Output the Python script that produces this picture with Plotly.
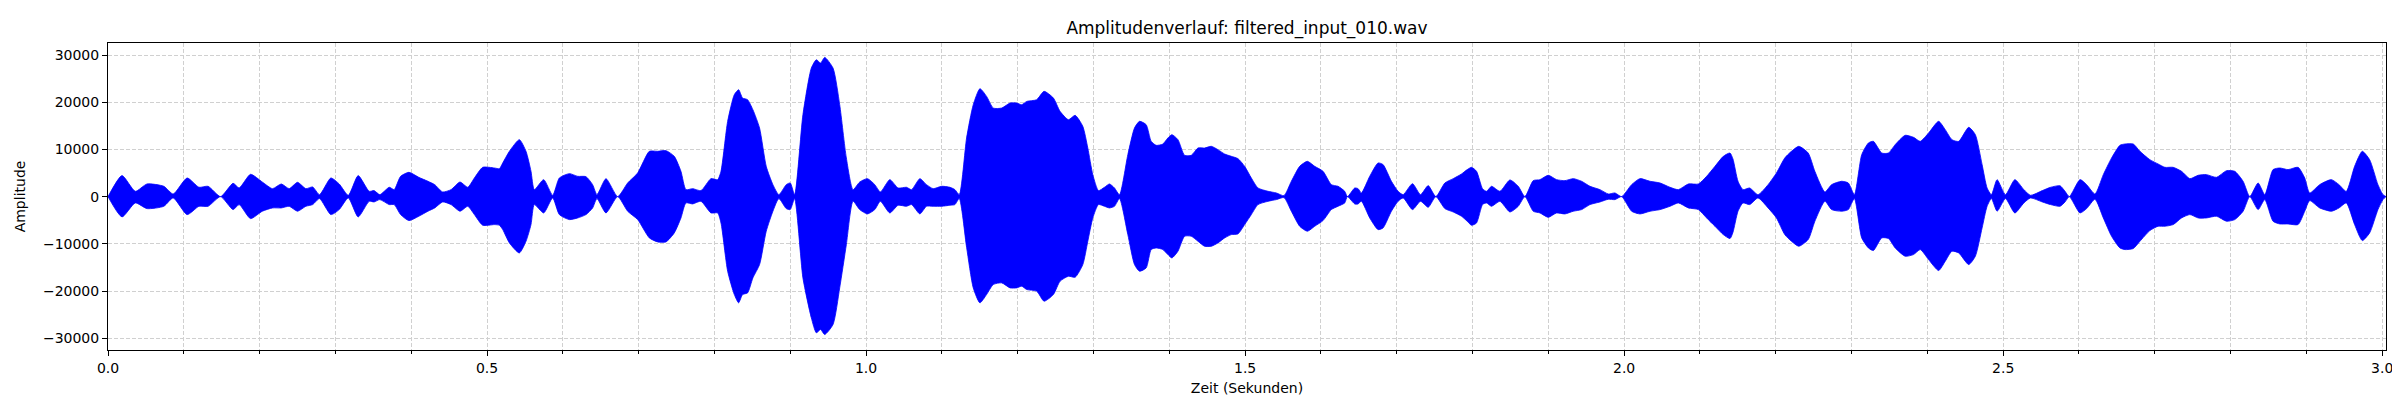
import plotly.graph_objects as go

# envelope of the waveform
# time (s), upper envelope, lower envelope (magnitude, drawn negative)
zeit = [
    0.000, 0.0185, 0.036, 0.0515, 0.0736, 0.086, 0.1044, 0.120, 0.132, 0.1485,
    0.165, 0.173, 0.188, 0.2035, 0.217, 0.2286, 0.239, 0.250, 0.261, 0.270,
    0.279, 0.294, 0.305, 0.317, 0.330, 0.3445, 0.351, 0.3586, 0.371, 0.3775,
    0.386, 0.397, 0.410, 0.422, 0.431, 0.4415, 0.4525, 0.4644, 0.4745, 0.4833,
    0.4943, 0.5097, 0.5163, 0.5207, 0.5295, 0.5426, 0.5514, 0.558, 0.5624, 0.5747,
    0.5866, 0.5954, 0.6086, 0.6196, 0.6305, 0.6393, 0.645, 0.6569, 0.6723, 0.6855,
    0.6987, 0.7141, 0.7251, 0.736, 0.747, 0.7558, 0.7624, 0.7712, 0.7822, 0.7954,
    0.8042, 0.8086, 0.8174, 0.8262, 0.8319, 0.8371, 0.8437, 0.8507, 0.8595, 0.8683,
    0.8771, 0.885, 0.8947, 0.900, 0.9057, 0.9167, 0.9278, 0.9344, 0.940, 0.9454,
    0.9564, 0.9652, 0.974, 0.9828, 0.9916, 1.0018, 1.0115, 1.0189, 1.0313, 1.0423,
    1.0533, 1.060, 1.071, 1.0797, 1.0885, 1.0996, 1.1106, 1.1172, 1.1229, 1.1326,
    1.1414, 1.1502, 1.159, 1.1678, 1.1789, 1.1899, 1.1987, 1.2053, 1.212, 1.2251,
    1.2348, 1.2471, 1.2559, 1.267, 1.2758, 1.2859, 1.2925, 1.2991, 1.3066, 1.3145,
    1.3211, 1.3277, 1.3343, 1.3453, 1.3541, 1.3607, 1.3695, 1.3761, 1.3827, 1.3915,
    1.3981, 1.4034, 1.4114, 1.4202, 1.429, 1.4378, 1.4466, 1.4554, 1.4642, 1.473,
    1.4818, 1.4906, 1.4994, 1.5082, 1.517, 1.5302, 1.5412, 1.5513, 1.561, 1.572,
    1.5821, 1.5918, 1.6028, 1.6138, 1.6226, 1.6314, 1.635, 1.6446, 1.649, 1.6534,
    1.6644, 1.6754, 1.682, 1.693, 1.7018, 1.7085, 1.7208, 1.7314, 1.7415, 1.7516,
    1.7635, 1.7745, 1.7855, 1.793, 1.7987, 1.8053, 1.8132, 1.8185, 1.8251, 1.8361,
    1.8493, 1.8603, 1.8691, 1.8801, 1.8889, 1.8999, 1.9109, 1.9219, 1.9329, 1.9439,
    1.9549, 1.9681, 1.9791, 1.9879, 1.9967, 2.0099, 2.0209, 2.0341, 2.0473, 2.0605,
    2.0715, 2.0847, 2.0979, 2.1088, 2.1198, 2.1308, 2.1396, 2.1435, 2.1502, 2.1568,
    2.1656, 2.1766, 2.1899, 2.2009, 2.2119, 2.2207, 2.2304, 2.2428, 2.2516, 2.2648,
    2.2737, 2.2869, 2.2957, 2.3037, 2.3134, 2.3222, 2.3288, 2.3398, 2.3487, 2.3575,
    2.3707, 2.3817, 2.3906, 2.4016, 2.4148, 2.4236, 2.4324, 2.4413, 2.4545, 2.4633,
    2.4722, 2.4788, 2.4845, 2.492, 2.503, 2.5154, 2.5273, 2.5361, 2.5516, 2.5626,
    2.575, 2.5816, 2.5873, 2.6013, 2.6101, 2.6211, 2.6321, 2.643, 2.654, 2.6606,
    2.6716, 2.6804, 2.6935, 2.7044, 2.7133, 2.7242, 2.7353, 2.7463, 2.7572, 2.7682,
    2.7814, 2.7946, 2.8055, 2.8165, 2.8253, 2.8363, 2.8451, 2.856, 2.8648, 2.8758,
    2.889, 2.8978, 2.9043, 2.9175, 2.9329, 2.943, 2.9526, 2.9636, 2.9737, 2.9834,
    2.9944, 3.001, 3.005,
]

oben = [
    0, 4450, 1130, 2680, 2190, 560, 3950, 1980, 2190, 0,
    2820, 1830, 4730, 3100, 1690, 2680, 1690, 3030, 1690, 2050,
    420, 3950, 2680, 280, 4450, 1130, 1270, 420, 1980, 1480,
    4300, 5150, 4090, 3250, 2540, 990, 1480, 3100, 1980, 3950,
    6210, 6070, 5930, 7130, 9600, 12070, 9600, 5360, 1480, 3600,
    280, 3950, 4870, 4300, 4230, 2540, 420, 3810, 0, 2890,
    5010, 9600, 9600, 9740, 8540, 5360, 1480, 1690, 1270, 3810,
    3600, 5360, 15950, 21600, 22650, 20890, 20540, 18420, 14540, 6420,
    2540, 420, 2540, 2890, 420, 17360, 27240, 29000, 28300, 29500,
    27240, 19480, 8190, 1480, 3100, 3810, 2540, 990, 3600, 1830,
    1980, 1480, 3810, 2540, 1690, 2190, 1980, 1480, 420, 12420,
    19480, 22870, 21240, 18770, 18770, 19830, 19830, 19480, 20180, 20540,
    22300, 20890, 18070, 16300, 17220, 14890, 10300, 4660, 1270, 1980,
    2680, 1830, 420, 8890, 14540, 15950, 15240, 11710, 10870, 11150,
    12420, 13130, 12070, 8750, 8750, 10300, 10300, 10660, 9950, 9030,
    8540, 8050, 6420, 3950, 1830, 1130, 780, 210, 3250, 6420,
    7480, 6420, 5360, 2540, 2190, 1130, 0, 1830, 1690, 780,
    4300, 7130, 6780, 3250, 1130, 420, 2750, 420, 2330, 0,
    2890, 3810, 4800, 5720, 6210, 5360, 1690, 1130, 2190, 1130,
    3530, 2190, 0, 3390, 3600, 4520, 3600, 3390, 3810, 3250,
    2190, 1480, 560, 780, 0, 2540, 3810, 3250, 2890, 1980,
    1480, 2680, 2680, 4300, 6420, 8540, 9240, 8000, 3250, 1480,
    1830, 420, 2540, 5010, 8190, 9600, 10660, 9240, 5360, 990,
    2540, 3250, 2890, 420, 8890, 11360, 11710, 9240, 9240, 11010,
    12990, 12560, 11710, 13480, 15950, 14190, 12070, 11710, 14680, 13130,
    6780, 1830, 420, 3600, 420, 3600, 1480, 280, 1270, 1980,
    2300, 1130, 0, 3600, 2540, 560, 4660, 8190, 10870, 11150,
    11150, 9600, 7830, 6920, 6210, 6210, 5360, 3810, 4520, 4660,
    4090, 5500, 5360, 3250, 0, 2890, 420, 5720, 6070, 5720,
    6210, 3950, 780, 2540, 3600, 2540, 1130, 6420, 9600, 7830,
    2540, 420, 0,
]

unten = [
    0, 4300, 1340, 2540, 2050, 280, 3810, 2050, 2050, 0,
    2750, 1690, 4660, 3100, 2400, 2400, 2050, 3100, 2050, 1690,
    420, 3810, 2750, 280, 4300, 990, 1130, 635, 1690, 1690,
    3810, 5080, 4160, 3100, 2400, 1130, 1690, 3100, 2050, 3810,
    6070, 5930, 6070, 6990, 9810, 11930, 9460, 5930, 1690, 3460,
    280, 3810, 4870, 4520, 3810, 2400, 420, 3460, 0, 3100,
    4870, 8750, 9600, 9600, 7690, 4520, 1340, 1550, 990, 3460,
    3460, 5580, 15810, 20750, 22510, 20750, 20400, 17220, 14400, 7340,
    3100, 420, 2540, 2750, 420, 17220, 25690, 28860, 28160, 29220,
    27100, 19340, 10160, 990, 2750, 3670, 2750, 990, 3460, 1830,
    2050, 1690, 3670, 2050, 2050, 2050, 1830, 1690, 420, 10730,
    19340, 22510, 20750, 18630, 18280, 19340, 19340, 18980, 19690, 20040,
    22160, 20750, 17930, 16870, 17080, 14400, 9460, 4520, 1690, 2050,
    2400, 2050, 420, 8050, 14400, 15810, 15100, 11220, 10870, 11220,
    12280, 12990, 11570, 8400, 8400, 9460, 10520, 10520, 9810, 8750,
    8050, 7900, 5930, 3810, 1690, 990, 635, 210, 3100, 6280,
    7340, 6280, 5080, 2750, 2050, 1340, 0, 1550, 1550, 990,
    4520, 6990, 6630, 3100, 990, 280, 2750, 990, 2260, 0,
    2540, 3250, 4160, 5220, 6070, 5580, 1690, 1340, 2050, 990,
    3250, 2050, 0, 3100, 3460, 4380, 3460, 3670, 3100, 2750,
    1690, 1130, 560, 635, 0, 3100, 3670, 3100, 2750, 2050,
    1340, 2400, 2750, 4520, 6280, 8050, 8890, 7600, 3100, 1340,
    1690, 280, 2400, 4520, 8050, 9460, 10520, 9100, 5220, 990,
    2750, 3100, 2750, 420, 8750, 10870, 11430, 8750, 8890, 10870,
    12630, 12280, 11220, 13340, 15670, 13690, 11570, 11930, 14400, 12630,
    6630, 2050, 420, 3100, 420, 3460, 1340, 280, 1130, 1690,
    2050, 1130, 0, 3460, 2540, 560, 4520, 8400, 10870, 11220,
    11010, 9460, 7200, 6280, 6280, 5930, 4520, 3810, 4520, 4520,
    4160, 5220, 4870, 3100, 0, 2750, 635, 5220, 5790, 5790,
    5930, 3100, 850, 2400, 3100, 2400, 1340, 5930, 9320, 7690,
    2750, 635, 0,
]

x_ticks = [0.0, 0.5, 1.0, 1.5, 2.0, 2.5, 3.0]
y_ticks = [-30000, -20000, -10000, 0, 10000, 20000, 30000]

BLUE = '#0000ff'
GRID = '#d0d0d0'
FONT = 'DejaVu Sans'

fig = go.Figure()

fig.add_trace(go.Scatter(
    x=zeit, y=oben,
    mode='lines',
    line=dict(color=BLUE, width=0.8, shape='spline', smoothing=0.6),
    hoverinfo='skip',
    showlegend=False,
))
fig.add_trace(go.Scatter(
    x=zeit, y=[-v for v in unten],
    mode='lines',
    line=dict(color=BLUE, width=0.8, shape='spline', smoothing=0.6),
    fill='tonexty',
    fillcolor=BLUE,
    showlegend=False,
))

axis_common = dict(
    showline=True, linecolor='black', linewidth=1, mirror=True,
    ticks='outside', ticklen=5, tickcolor='black',
    showgrid=True, gridcolor=GRID, griddash='4px,2px', gridwidth=1,
    zeroline=False,
    tickfont=dict(family=FONT, size=14, color='black'),
)

fig.update_layout(
    width=2400, height=400,
    margin=dict(l=100, r=22, t=35, b=58),
    paper_bgcolor='white', plot_bgcolor='white',
    font=dict(family=FONT, color='black'),
    title=dict(
        text='Amplitudenverlauf: filtered_input_010.wav',
        x=0.5, xref='paper', xanchor='center',
        y=0.95, yref='container', yanchor='middle',
        font=dict(family=FONT, size=17, color='black'),
    ),
    xaxis=dict(
        axis_common,
        range=[0, 3.005],
        tickvals=x_ticks, tickformat='.1f',
        minor=dict(dtick=0.1, tick0=0, ticks='outside', ticklen=3, tickcolor='black',
                   showgrid=True, gridcolor=GRID, griddash='4px,2px', gridwidth=1),
        title=dict(text='Zeit (Sekunden)', standoff=8,
                   font=dict(family=FONT, size=14, color='black')),
    ),
    yaxis=dict(
        axis_common,
        range=[-32500, 32550],
        tickvals=y_ticks, tickformat='d',
        title=dict(text='Amplitude', standoff=14,
                   font=dict(family=FONT, size=14, color='black')),
    ),
)

fig.write_html("out.html")
